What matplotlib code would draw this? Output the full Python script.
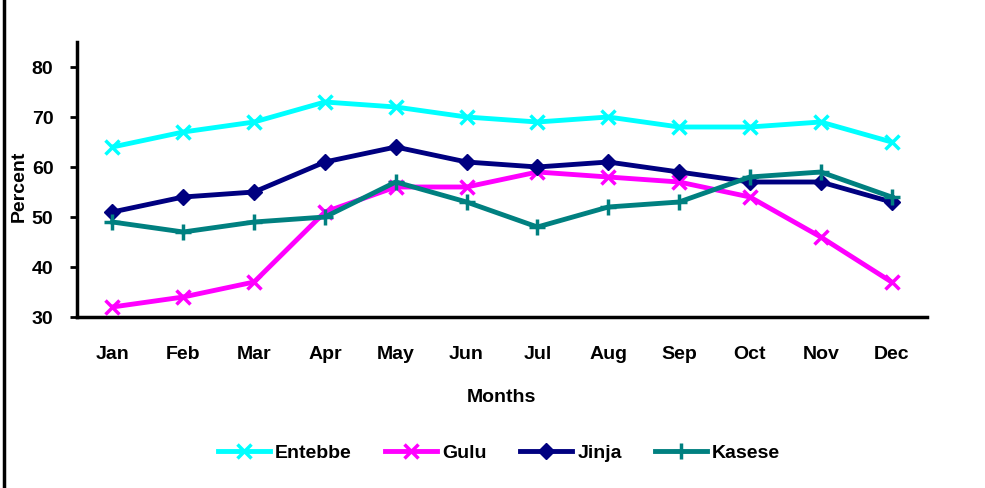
import matplotlib.pyplot as plt
import numpy as np

plt.rcParams['font.family'] = ['Liberation Sans', 'DejaVu Sans']
plt.rcParams['font.weight'] = 'bold'

months = ["Jan", "Feb", "Mar", "Apr", "May", "Jun", "Jul", "Aug", "Sep", "Oct", "Nov", "Dec"]
entebbe = [64, 67, 69, 73, 72, 70, 69, 70, 68, 68, 69, 65]
gulu = [32, 34, 37, 51, 56, 56, 59, 58, 57, 54, 46, 37]
jinja = [51, 54, 55, 61, 64, 61, 60, 61, 59, 57, 57, 53]
kasese = [49, 47, 49, 50, 57, 53, 48, 52, 53, 58, 59, 54]

fig = plt.figure(figsize=(9.85, 4.88), dpi=100)
ax = fig.add_axes([77/985, 1-317/488, (927-77)/985, (317-42)/488])
x = np.arange(len(months))

ax.plot(x, entebbe, color='#00FFFF', lw=3.5, marker='x', ms=10, mew=2.5, label='Entebbe')
ax.plot(x, gulu, color='#FF00FF', lw=3.5, marker='x', ms=10, mew=2.5, label='Gulu')
ax.plot(x, jinja, color='#000080', lw=3.5, marker='D', ms=8, label='Jinja')
ax.plot(x, kasese, color='#008080', lw=3.5, marker='+', ms=12, mew=2.5, label='Kasese')

ax.set_xlim(-0.5, 11.5)
ax.set_ylim(30, 85)
ax.set_yticks([30, 40, 50, 60, 70, 80])
ax.set_xticks(x)
ax.set_xticklabels(months)
ax.tick_params(axis='x', length=0, pad=21, labelsize=14)
ax.tick_params(axis='y', length=5, width=2, direction='out', labelsize=14, pad=12)
for s in ['top', 'right']:
    ax.spines[s].set_visible(False)
ax.spines['left'].set_linewidth(2.5)
ax.spines['bottom'].set_linewidth(2.5)

fig.text(501/985, 1-397/488, 'Months', ha='center', va='center', fontsize=14, fontweight='bold')
fig.text(19/985, 1-186/488, 'Percent', rotation=90, ha='center', va='center', fontsize=14, fontweight='bold')

fig.legend(loc='center', bbox_to_anchor=(499/985, 1-453/488), ncol=4, frameon=False,
           fontsize=14, handlelength=2.7, columnspacing=1.7, handletextpad=0.25)

fig.add_artist(plt.Line2D([4/985, 4/985], [0, 1], color='black', lw=2.5, transform=fig.transFigure))

fig.savefig('out.png', dpi=100)
